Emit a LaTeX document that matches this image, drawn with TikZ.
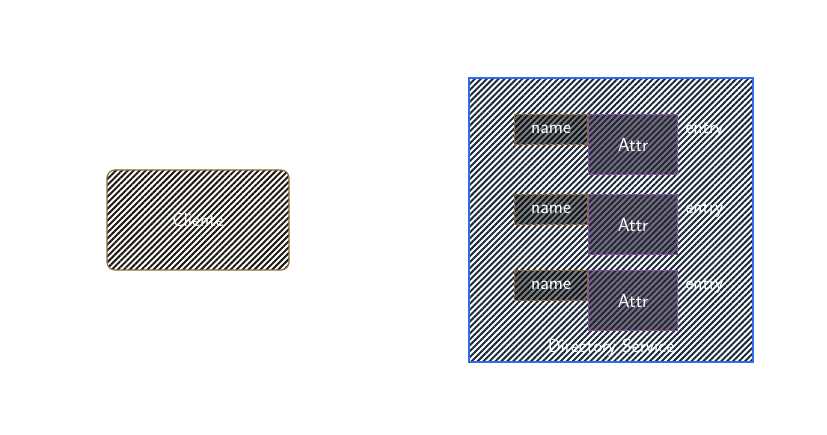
\documentclass[tikz,border=0pt]{standalone}
\usepackage{xcolor}
\usepackage{tikz}
\usetikzlibrary{positioning}
\usetikzlibrary{patterns.meta}

\definecolor{clientbrown}{HTML}{8C6A3C}
\definecolor{dirblue}{HTML}{2F6BEF}
\definecolor{attrpurple}{HTML}{8A4FA8}
\definecolor{hatchdark}{HTML}{1E1A14}
\definecolor{hatchnavy}{HTML}{1C2A3A}
\definecolor{attrdark}{HTML}{2A2438}

\tikzset{
  hatch/.style={preaction={pattern={Lines[angle=45,distance=4.2pt,line width=2pt]},
    pattern color=#1}},
  label/.style={text=white, font=\sffamily\fontsize{19}{21}\selectfont},
  clientbox/.style={draw=clientbrown, line width=1.2pt, rounded corners=8pt,
    hatch=hatchdark, minimum width=182pt, minimum height=100pt},
  dirbox/.style={draw=dirblue, line width=1.2pt, hatch=hatchnavy,
    minimum width=284pt, minimum height=284pt},
  namebox/.style={draw=clientbrown, line width=1.2pt,
    preaction={fill=black, fill opacity=0.5},
    minimum width=73pt, minimum height=30pt},
  attrbox/.style={draw=attrpurple, line width=1.2pt,
    preaction={fill=attrdark, fill opacity=0.65},
    minimum width=89pt, minimum height=60pt}
}

\begin{document}
\begin{tikzpicture}[x=1pt, y=-1pt]

\useasboundingbox (0,0) rectangle (827,435);

% Draw client
\node[clientbox] (cliente) at (198,220) {};
\node[label] (clientetext) at (cliente.center) {Cliente};

% Draw directory service
\node[dirbox] (dir) at (611,220) {};
\node[label] (dirtext) at (611,348) {Directory Service};

% Draw entries
\foreach \i/\y in {1/114, 2/194, 3/270} {
  \node[namebox, label, anchor=north west] (name\i) at (514,\y) {name};
  \node[attrbox, label, anchor=north west] (attr\i) at (588,\y) {Attr};
  \node[label, anchor=west] (entry\i) at (682,\y+16) {entry};
}

\end{tikzpicture}
\end{document}
